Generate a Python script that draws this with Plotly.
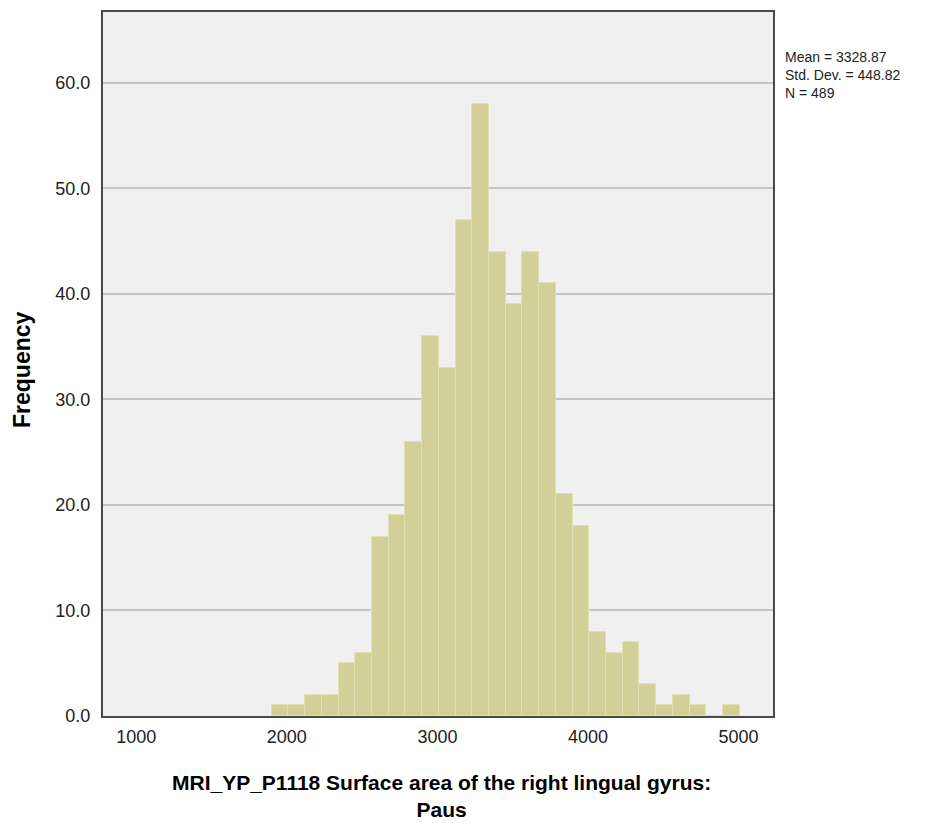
import plotly.graph_objects as go

# histogram of the right lingual gyrus surface area (SPSS-style)
counts = [1, 1, 2, 2, 5, 6, 17, 19, 26, 36, 33, 47, 58, 44, 39, 44, 41, 21, 18,
          8, 6, 7, 3, 1, 2, 1, 0, 1]
bin_start = 1900
bin_width = 111

x_ticks = [1000, 2000, 3000, 4000, 5000]
y_ticks = [0, 10, 20, 30, 40, 50, 60]

stats_lines = ["Mean = 3328.87", "Std. Dev. = 448.82", "N = 489"]
x_title_lines = ["MRI_YP_P1118 Surface area of the right lingual gyrus:", "Paus"]
y_title = "Frequency"

centers = [bin_start + bin_width * (i + 0.5) for i in range(len(counts))]

fig = go.Figure()
fig.add_trace(go.Bar(
    x=centers,
    y=counts,
    width=bin_width,
    marker=dict(color='#D3CF99', line=dict(color='#E2DFB6', width=1)),
    showlegend=False
))

# page body adds 8px, so margins are 8px smaller than the measured plot box
fig.update_layout(
    width=932, height=816,
    paper_bgcolor='white',
    plot_bgcolor='#F0F0F0',
    margin=dict(l=95, r=167, t=2, b=108),
    font=dict(family='Liberation Sans, Arial, sans-serif', size=18, color='#222222'),
    bargap=0,
    xaxis=dict(
        range=[779, 5229],
        tickvals=x_ticks,
        ticks='outside', ticklen=3, tickcolor='rgba(0,0,0,0)',
        showgrid=False,
        zeroline=False,
        showline=True, linecolor='#4a4a4a', linewidth=2, mirror=True,
        tickfont=dict(size=18, color='#222222'),
    ),
    yaxis=dict(
        range=[0, 66.7],
        tickvals=y_ticks,
        tickformat='.1f',
        ticks='outside', ticklen=7, tickcolor='rgba(0,0,0,0)',
        showgrid=True, gridcolor='#C4C4C4', gridwidth=1.5,
        zeroline=False,
        showline=True, linecolor='#4a4a4a', linewidth=2, mirror=True,
        tickfont=dict(size=18, color='#222222'),
    ),
)

# stats box
fig.add_annotation(
    text='<br>'.join(stats_lines),
    xref='paper', yref='paper',
    x=1.0, y=1.0,
    xshift=10, yshift=-63,
    xanchor='left', yanchor='middle',
    align='left',
    showarrow=False,
    font=dict(size=14, color='#222222'),
)

# x axis title, two lines
fig.add_annotation(
    text='<b>' + '<br>'.join(x_title_lines) + '</b>',
    xref='paper', yref='paper',
    x=0.5, y=0.0,
    xshift=3, yshift=-80,
    xanchor='center', yanchor='middle',
    align='center',
    showarrow=False,
    font=dict(size=21, color='black'),
)

fig.add_annotation(
    text='<b>' + y_title + '</b>',
    xref='paper', yref='paper',
    x=0.0, y=0.4915,
    xshift=-81,
    xanchor='center', yanchor='middle',
    textangle=-90,
    showarrow=False,
    font=dict(size=23, color='black'),
)

fig.write_html("out.html")
